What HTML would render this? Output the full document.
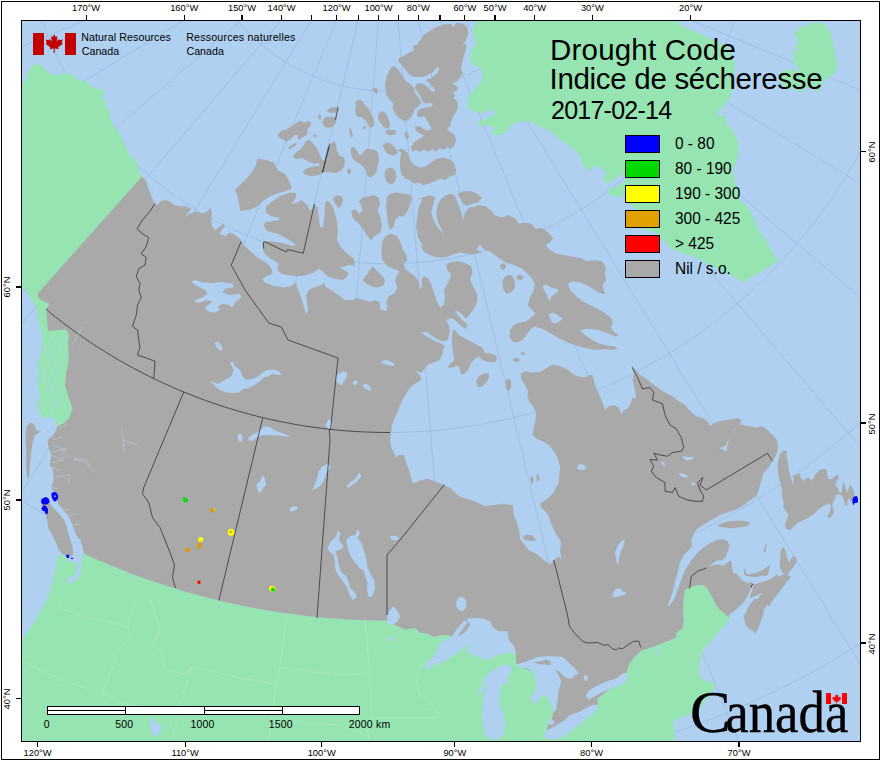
<!DOCTYPE html>
<html><head><meta charset="utf-8"><title>Drought Code</title>
<style>html,body{margin:0;padding:0;background:#fff}body{width:880px;height:760px;position:relative;overflow:hidden;font-family:"Liberation Sans",sans-serif}</style>
</head><body>
<svg width="880" height="760" viewBox="0 0 880 760" style="position:absolute;left:0;top:0">
<defs><clipPath id="c"><rect x="22" y="21" width="838" height="720"/></clipPath></defs>
<rect x="22" y="21" width="838" height="720" fill="#afd0f1"/>
<g clip-path="url(#c)">
<polyline fill="none" stroke="#86a4cf" stroke-opacity="0.55" stroke-width="0.7" points="-493.89,-175.53 -495.68,-147.76 -496.59,-119.95 -496.63,-92.12 -495.8,-64.31 -494.09,-36.53 -491.5,-8.83 -488.05,18.79 -483.73,46.28 -478.55,73.62 -472.51,100.78 -465.62,127.74 -457.89,154.48 -449.32,180.95 -439.92,207.14 -429.71,233.03 -418.68,258.58 -406.86,283.77 -394.25,308.57 -380.87,332.97 -366.72,356.94 -351.84,380.45 -336.21,403.48 -319.88,426 -302.84,448 -285.12,469.46 -266.73,490.35 -247.7,510.65 -228.03,530.34 -207.76,549.4 -186.9,567.81 -165.47,585.57 -143.49,602.63 -120.99,619 -97.98,634.66 -74.49,649.58 -50.55,663.76 -26.17,677.17 -1.38,689.82 23.8,701.67 49.33,712.74 75.2,722.99 101.38,732.42 127.84,741.03 154.56,748.8 181.52,755.73 208.67,761.8 236.01,767.02 263.49,771.38 291.1,774.87 318.8,777.49 346.57,779.24 374.39,780.11 402.21,780.11 430.03,779.24 457.8,777.49 485.5,774.87 513.11,771.38 540.59,767.02 567.93,761.8 595.08,755.73 622.04,748.8 648.76,741.03 675.22,732.42 701.4,722.99 727.27,712.74 752.8,701.67 777.98,689.82 802.77,677.17 827.15,663.76 851.09,649.58 874.58,634.66 897.59,619 920.09,602.63 942.07,585.57 963.5,567.81 984.36,549.4 1004.63,530.34 1024.3,510.65 1043.33,490.35 1061.72,469.46 1079.44,448 1096.48,426 1112.81,403.48 1128.44,380.45 1143.32,356.94 1157.47,332.97 1170.85,308.57 1183.46,283.77 1195.28,258.58 1206.31,233.03 1216.52,207.14 1225.92,180.95 1234.49,154.48 1242.22,127.74 1249.11,100.78 1255.15,73.62 1260.33,46.28 1264.65,18.79 1268.1,-8.83 1270.69,-36.53 1272.4,-64.31 1273.23,-92.12 1273.19,-119.95 1272.28,-147.76 1270.49,-175.53"/>
<polyline fill="none" stroke="#86a4cf" stroke-opacity="0.55" stroke-width="0.7" points="-317.42,-161.38 -318.85,-139.17 -319.58,-116.92 -319.61,-94.66 -318.94,-72.41 -317.57,-50.19 -315.51,-28.02 -312.74,-5.94 -309.29,16.06 -305.15,37.93 -300.32,59.66 -294.81,81.23 -288.62,102.61 -281.76,123.79 -274.25,144.74 -266.07,165.45 -257.25,185.89 -247.8,206.04 -237.71,225.88 -227,245.4 -215.69,264.57 -203.78,283.38 -191.28,301.8 -178.21,319.82 -164.58,337.42 -150.41,354.58 -135.7,371.29 -120.47,387.53 -104.74,403.28 -88.52,418.53 -71.84,433.26 -54.69,447.46 -37.11,461.12 -19.11,474.21 -0.7,486.74 18.09,498.67 37.24,510.01 56.74,520.75 76.57,530.86 96.71,540.35 117.14,549.2 137.83,557.4 158.78,564.94 179.95,571.83 201.32,578.04 222.88,583.59 244.6,588.45 266.47,592.62 288.46,596.11 310.54,598.9 332.7,601 354.92,602.39 377.17,603.09 399.43,603.09 421.68,602.39 443.9,601 466.06,598.9 488.14,596.11 510.13,592.62 532,588.45 553.72,583.59 575.28,578.04 596.65,571.83 617.82,564.94 638.77,557.4 659.46,549.2 679.89,540.35 700.03,530.86 719.86,520.75 739.36,510.01 758.51,498.67 777.3,486.74 795.71,474.21 813.71,461.12 831.29,447.46 848.44,433.26 865.12,418.53 881.34,403.28 897.07,387.53 912.3,371.29 927.01,354.58 941.18,337.42 954.81,319.82 967.88,301.8 980.38,283.38 992.29,264.57 1003.6,245.4 1014.31,225.88 1024.4,206.04 1033.85,185.89 1042.67,165.45 1050.85,144.74 1058.36,123.79 1065.22,102.61 1071.41,81.23 1076.92,59.66 1081.75,37.93 1085.89,16.06 1089.34,-5.94 1092.11,-28.02 1094.17,-50.19 1095.54,-72.41 1096.21,-94.66 1096.18,-116.92 1095.45,-139.17 1094.02,-161.38"/>
<polyline fill="none" stroke="#86a4cf" stroke-opacity="0.55" stroke-width="0.7" points="-147.26,-147.74 -148.35,-130.88 -148.9,-114 -148.93,-97.1 -148.42,-80.22 -147.38,-63.36 -145.82,-46.54 -143.72,-29.77 -141.1,-13.08 -137.95,3.52 -134.29,20.01 -130.1,36.37 -125.41,52.6 -120.21,68.67 -114.5,84.58 -108.3,100.29 -101.61,115.8 -94.43,131.09 -86.77,146.15 -78.65,160.97 -70.06,175.51 -61.02,189.79 -51.54,203.77 -41.62,217.44 -31.28,230.8 -20.52,243.82 -9.36,256.5 2.2,268.83 14.13,280.78 26.44,292.35 39.11,303.53 52.12,314.31 65.46,324.67 79.12,334.61 93.09,344.11 107.35,353.17 121.88,361.78 136.68,369.92 151.73,377.6 167.02,384.8 182.52,391.51 198.22,397.74 214.12,403.47 230.18,408.69 246.4,413.41 262.76,417.61 279.25,421.3 295.84,424.47 312.53,427.11 329.29,429.23 346.11,430.82 362.97,431.89 379.85,432.42 396.75,432.42 413.63,431.89 430.49,430.82 447.31,429.23 464.07,427.11 480.76,424.47 497.35,421.3 513.84,417.61 530.2,413.41 546.42,408.69 562.48,403.47 578.38,397.74 594.08,391.51 609.58,384.8 624.87,377.6 639.92,369.92 654.72,361.78 669.25,353.17 683.51,344.11 697.48,334.61 711.14,324.67 724.48,314.31 737.49,303.53 750.16,292.35 762.47,280.78 774.4,268.83 785.96,256.5 797.12,243.82 807.88,230.8 818.22,217.44 828.14,203.77 837.62,189.79 846.66,175.51 855.25,160.97 863.37,146.15 871.03,131.09 878.21,115.8 884.9,100.29 891.1,84.58 896.81,68.67 902.01,52.6 906.7,36.37 910.89,20.01 914.55,3.52 917.7,-13.08 920.32,-29.77 922.42,-46.54 923.98,-63.36 925.02,-80.22 925.53,-97.1 925.5,-114 924.95,-130.88 923.86,-147.74"/>
<polyline fill="none" stroke="#86a4cf" stroke-opacity="0.55" stroke-width="0.7" points="20.93,-134.25 20.18,-122.69 19.8,-111.11 19.79,-99.52 20.13,-87.94 20.85,-76.37 21.92,-64.83 23.36,-53.33 25.16,-41.89 27.32,-30.5 29.83,-19.19 32.7,-7.96 35.92,3.17 39.49,14.2 43.4,25.1 47.66,35.88 52.25,46.52 57.17,57.01 62.42,67.34 67.99,77.5 73.88,87.48 80.08,97.27 86.59,106.86 93.39,116.24 100.49,125.4 107.87,134.34 115.52,143.04 123.45,151.49 131.64,159.69 140.08,167.63 148.77,175.3 157.69,182.69 166.85,189.8 176.22,196.61 185.8,203.13 195.58,209.35 205.55,215.25 215.7,220.84 226.03,226.1 236.51,231.04 247.14,235.65 257.92,239.92 268.82,243.85 279.84,247.43 290.96,250.67 302.19,253.55 313.5,256.08 324.88,258.25 336.32,260.07 347.82,261.52 359.36,262.61 370.92,263.34 382.51,263.71 394.09,263.71 405.68,263.34 417.24,262.61 428.78,261.52 440.28,260.07 451.72,258.25 463.1,256.08 474.41,253.55 485.64,250.67 496.76,247.43 507.78,243.85 518.68,239.92 529.46,235.65 540.09,231.04 550.57,226.1 560.9,220.84 571.05,215.25 581.02,209.35 590.8,203.13 600.38,196.61 609.75,189.8 618.91,182.69 627.83,175.3 636.52,167.63 644.96,159.69 653.15,151.49 661.08,143.04 668.73,134.34 676.11,125.4 683.21,116.24 690.01,106.86 696.52,97.27 702.72,87.48 708.61,77.5 714.18,67.34 719.43,57.01 724.35,46.52 728.94,35.88 733.2,25.1 737.11,14.2 740.68,3.17 743.9,-7.96 746.77,-19.19 749.28,-30.5 751.44,-41.89 753.24,-53.33 754.68,-64.83 755.75,-76.37 756.47,-87.94 756.81,-99.52 756.8,-111.11 756.42,-122.69 755.67,-134.25"/>
<polyline fill="none" stroke="#86a4cf" stroke-opacity="0.55" stroke-width="0.7" points="192.9,-120.47 192.5,-114.32 192.3,-108.16 192.29,-101.99 192.47,-95.83 192.85,-89.68 193.43,-83.54 194.19,-77.43 195.15,-71.34 196.29,-65.28 197.63,-59.26 199.16,-53.29 200.87,-47.37 202.77,-41.51 204.85,-35.71 207.11,-29.97 209.55,-24.31 212.17,-18.73 214.97,-13.24 217.93,-7.83 221.06,-2.53 224.36,2.68 227.82,7.78 231.44,12.77 235.21,17.64 239.14,22.4 243.21,27.02 247.43,31.52 251.78,35.88 256.27,40.1 260.89,44.18 265.64,48.11 270.51,51.9 275.49,55.52 280.59,58.99 285.79,62.29 291.1,65.43 296.5,68.41 301.99,71.21 307.56,73.83 313.22,76.28 318.95,78.55 324.75,80.64 330.61,82.55 336.53,84.27 342.5,85.8 348.51,87.15 354.57,88.31 360.65,89.27 366.77,90.04 372.91,90.63 379.06,91.01 385.22,91.21 391.38,91.21 397.54,91.01 403.69,90.63 409.83,90.04 415.95,89.27 422.03,88.31 428.09,87.15 434.1,85.8 440.07,84.27 445.99,82.55 451.85,80.64 457.65,78.55 463.38,76.28 469.04,73.83 474.61,71.21 480.1,68.41 485.5,65.43 490.81,62.29 496.01,58.99 501.11,55.52 506.09,51.9 510.96,48.11 515.71,44.18 520.33,40.1 524.82,35.88 529.17,31.52 533.39,27.02 537.46,22.4 541.39,17.64 545.16,12.77 548.78,7.78 552.24,2.68 555.54,-2.53 558.67,-7.83 561.63,-13.24 564.43,-18.73 567.05,-24.31 569.49,-29.97 571.75,-35.71 573.83,-41.51 575.73,-47.37 577.44,-53.29 578.97,-59.26 580.31,-65.28 581.45,-71.34 582.41,-77.43 583.17,-83.54 583.75,-89.68 584.13,-95.83 584.31,-101.99 584.3,-108.16 584.1,-114.32 583.7,-120.47"/>
<polyline fill="none" stroke="#86a4cf" stroke-opacity="0.55" stroke-width="0.7" points="343.66,-94.14 -853.21,191.7"/>
<polyline fill="none" stroke="#86a4cf" stroke-opacity="0.55" stroke-width="0.7" points="345.88,-87.28 -791.47,382.43"/>
<polyline fill="none" stroke="#86a4cf" stroke-opacity="0.55" stroke-width="0.7" points="349.15,-80.86 -700.63,561.14"/>
<polyline fill="none" stroke="#86a4cf" stroke-opacity="0.55" stroke-width="0.7" points="353.38,-75.02 -582.94,723.42"/>
<polyline fill="none" stroke="#86a4cf" stroke-opacity="0.55" stroke-width="0.7" points="358.47,-69.92 -441.28,865.28"/>
<polyline fill="none" stroke="#86a4cf" stroke-opacity="0.55" stroke-width="0.7" points="364.3,-65.68 -279.16,983.2"/>
<polyline fill="none" stroke="#86a4cf" stroke-opacity="0.55" stroke-width="0.7" points="370.72,-62.41 -100.58,1074.29"/>
<polyline fill="none" stroke="#86a4cf" stroke-opacity="0.55" stroke-width="0.7" points="377.58,-60.18 90.07,1136.29"/>
<polyline fill="none" stroke="#86a4cf" stroke-opacity="0.55" stroke-width="0.7" points="384.7,-59.05 288.06,1167.68"/>
<polyline fill="none" stroke="#86a4cf" stroke-opacity="0.55" stroke-width="0.7" points="391.9,-59.05 488.54,1167.68"/>
<polyline fill="none" stroke="#86a4cf" stroke-opacity="0.55" stroke-width="0.7" points="399.02,-60.18 686.53,1136.29"/>
<polyline fill="none" stroke="#86a4cf" stroke-opacity="0.55" stroke-width="0.7" points="405.88,-62.41 877.18,1074.29"/>
<polyline fill="none" stroke="#86a4cf" stroke-opacity="0.55" stroke-width="0.7" points="412.3,-65.68 1055.76,983.2"/>
<polyline fill="none" stroke="#86a4cf" stroke-opacity="0.55" stroke-width="0.7" points="418.13,-69.92 1217.88,865.28"/>
<polyline fill="none" stroke="#86a4cf" stroke-opacity="0.55" stroke-width="0.7" points="423.22,-75.02 1359.54,723.42"/>
<polyline fill="none" stroke="#86a4cf" stroke-opacity="0.55" stroke-width="0.7" points="427.45,-80.86 1477.23,561.14"/>
<polyline fill="none" stroke="#86a4cf" stroke-opacity="0.55" stroke-width="0.7" points="430.72,-87.28 1568.07,382.43"/>
<polyline fill="none" stroke="#86a4cf" stroke-opacity="0.55" stroke-width="0.7" points="432.94,-94.14 1629.81,191.7"/>
<polyline fill="none" stroke="#86a4cf" stroke-opacity="0.55" stroke-width="0.7" points="434.06,-101.26 1660.92,-6.34"/>
<polygon fill="#96e4b1" points="15,86.25 25,82.5 28,72.5 32,65.5 40,63.75 42.5,67 50,73.75 55.5,75 65.5,73.25 72.5,74.5 79.5,81.25 86.25,81.25 93,87.5 103.75,90.5 103.75,96.25 100,98 105,100 106.25,106.25 110,111.25 109.5,117.5 113.75,126.25 117.5,130 122.5,140 130,155 137.5,162.5 139,172.5 142,176.5 150,300 90,430 57.5,426.25 55,420 50,416.25 45,418.75 40,415 37.5,405 40,395 37.5,385 38.75,375 37.5,365 41.25,355 42,345 42.5,335 40,325 37.5,315 36.25,306.25 31.25,298.75 27.5,292.5 25,288.75 15,285"/>
<polygon fill="#96e4b1" points="57.5,554.5 56.25,565 53.75,577.5 51.25,587.5 48.75,595 45,602.5 40,612.5 33.75,622.5 22,640 10,650 10,760 676,760 675.5,740.5 675,735 673.75,726.25 672.5,722.5 677.5,718.75 685,716.25 692.5,712.5 697.5,710 702.5,705 710,695 716.25,683.75 710,682.5 702.5,680 698.75,673.75 699.5,667.5 700,660 702.5,651.25 706.25,646.25 711.25,641.25 716.25,635 721.25,628.75 726.25,623.75 729.5,618 725,613.75 720,610 716.25,605 712.5,597.5 707.5,588.75 703.75,585 697.5,585 690,587.5 685,589.5 683.75,597.5 683,610 683.75,620 682.5,628.75 676.25,632.5 676.25,637.5 667.5,641.25 655,646.25 641.25,650.5 633.75,657.5 628.75,665 626.25,673 615,685 602,695 597,699 598,704.5 580,715 560,728 548,738 544.5,736.25 547,730 548,725 551.25,720 553.75,712 552,700 548,685 535,672 520,667 516,663 516,655 505,645 480,640 460,640 452.5,636.25 446.25,635 440,635.5 433.75,637 427.5,633.75 420,632.5 415,628 405,629.5 395,625 390,623 387.16,620.53 375.72,620.42 364.28,620.13 352.84,619.66 341.42,619.01 330,618.18 318.6,617.17 307.22,615.98 295.86,614.62 284.52,613.07 273.2,611.34 261.92,609.44 250.67,607.35 239.45,605.09 228.27,602.66 217.12,600.04 206.03,597.25 194.97,594.29 183.97,591.15 173.01,587.84 162.11,584.36 151.26,580.71 140.48,576.88 129.75,572.89 119.09,568.72 108.5,564.39 97.98,559.89 87.53,555.23 77.15,550.4 76,556 72,557"/>
<polygon fill="#96e4b1" points="478.75,17.5 475,25 472.5,31.25 474.5,37.5 476.25,43.75 471.25,50 470,57.5 471.25,63.75 480,67.5 482.5,73.75 482,80 477.5,85.5 472.5,91.25 468.75,97.5 467,103.75 468.75,108.75 475,112 481.25,113 487.5,111.25 492.5,108.75 495,112.5 492.5,116.25 485.5,118.75 480,120.5 477.5,122.5 480,126.25 486.25,125 492.5,126.25 493.75,130 490,133 495,135 502.5,134.5 507.5,130 511.25,126.25 515,123 522.5,121.25 530,122 537.5,125 542.5,128 548,130 553.75,133.75 560,140 565,142.5 571.25,147.5 577.5,152.5 581.25,160 585,167.5 590,171.25 595,165 600,167.5 606.25,172.5 602.5,178.75 607.5,183.75 616.25,177.5 623.75,173.75 625.5,180 622.5,183.75 613.75,187.5 607.5,190 610,195 617.5,197.5 625.5,195.5 630,205 635,207.5 642.5,228.75 647.5,230 655,232.5 660,235 665,242.5 670,247.5 680,252.5 690,255 700,260 710,265 720,270 730,275 740,280 743.75,283 750,277.5 760,272.5 770,266.25 778,261.25 772.5,252.5 767.5,242.5 760,232.5 755,222.5 751.25,212.5 746.25,205 740,200 738.75,190 735,182.5 732.5,172.5 736.25,162.5 738.75,152.5 738,142.5 735,135 732.5,130 727,125 725,116.25 715,113.75 720,110 726.25,102.5 730,97.5 732.5,87.5 733.75,75 735,62.5 731.25,52.5 725,45 715,41.25 707.5,37.5 700,33.75 690,30 680,25 676.25,17.5"/>
<polygon fill="#96e4b1" points="799.47,24.58 803.42,27.21 808.68,24.58 813.95,21.95 819.21,22.61 824.47,24.58 828.42,29.84 831.71,35.11 832.37,41.68 834.34,48.26 835,56.16 836.97,62.74 836.32,69.32 833.68,73.26 829.74,77.21 825.79,79.84 821.84,82.47 821.18,87.74 817.89,92.34 813.95,89.71 810,86.42 804.74,89.05 800.79,93 798.16,91.68 794.21,87.74 787.63,90.37 782.37,85.11 779.08,78.53 778.42,74.58 783.68,70.63 790.26,69.32 795.53,70.63 799.47,71.95 797.5,68 795.53,63.39 790.92,61.42 794.47,59.45 792.89,54.84 793.55,50.89 799.47,49.58 794.87,47.61 798.16,43 796.18,37.74 793.55,34.45 794.87,31.16 799.47,30.5"/>
<polygon fill="#a9a9a9" points="277.5,135 281.25,130.5 285.5,130 291.25,126.25 295,123.75 300,120.75 305,122.5 308,120.75 311.25,122.5 310.5,126.25 307.5,128.75 308,132.5 305,136.25 302,137 301.25,138.75 297.5,139.5 298,135 295,135 291.25,138.75 287.5,141.25 285.5,142.5 283.75,139.5 280,138.75"/>
<polygon fill="#a9a9a9" points="288,148 292.5,144.5 296.25,142.5 297,144.5 292.5,147.5 289.5,149.5"/>
<polygon fill="#a9a9a9" points="293,156.25 296.25,152 299.5,150 303,146.25 306.25,140.75 310,140 312.5,143 315,146.25 318,150 320,155.5 322.5,160 326.25,161.25 328,152.5 330,146.25 332.5,142 335,141.25 336.25,146.25 337,151.25 340,156.25 343.75,157 345,161.25 344.25,166.25 341.25,170.5 336.25,173 331.25,172.5 326.25,172 322.5,173 318.75,175 312.5,176.25 307.5,175.5 303.75,173.75 303,171.25 306.25,168.75 310.5,167 316.25,166.25 320,165.5 318.75,163 314.5,163.75 310.5,162.5 306.25,160.5 302,158 297.5,159 294.5,158.5"/>
<polygon fill="#a9a9a9" points="326.25,110.5 330,108 335,107 338,106.25 338.5,109.5 336.25,112.5 332.5,113 328.75,112.5"/>
<polygon fill="#a9a9a9" points="323,119.5 326.25,117 331.25,116.5 335.5,117 336.5,120 335,124.5 332,127 327.5,128 323.75,126.25 322.5,122.5"/>
<polygon fill="#a9a9a9" points="318,115.5 320,114.5 321.5,117.5 320,120 318.5,118.75"/>
<polygon fill="#a9a9a9" points="312.5,135 315,134 317,136.25 314.5,137.5"/>
<polygon fill="#a9a9a9" points="355,102 358,100 362,100.5 364.5,105 368,107.5 370,111.25 373,117.5 374.5,122.5 373,127 370,128 368,124.5 366.25,121.25 363.75,119.5 361.25,117 358.75,117.5 356.25,115 355,110 356.25,106.25"/>
<polygon fill="#a9a9a9" points="362.5,127 365,126 366.75,128 364.5,129.5"/>
<polygon fill="#a9a9a9" points="378,115 381.25,111.25 385,112.5 388,117.5 390,123.75 389.5,128 386.25,128.75 383,126.25 380,122.5 378,118.75"/>
<polygon fill="#a9a9a9" points="373,88.75 376.25,87.5 378,90.5 377.5,94 375,93"/>
<polygon fill="#a9a9a9" points="349,128 351,128.75 353,136.25 351.5,138 349.5,133.75"/>
<polygon fill="#a9a9a9" points="385,131.25 388.75,129.5 395,130 396.5,133 393.75,135 388,135"/>
<polygon fill="#a9a9a9" points="404.25,132.5 407,132 409,136.25 407.5,139.5 405,137.5"/>
<polygon fill="#a9a9a9" points="350.5,148 353.75,147 356.25,150 358,153 360,155.5 363,153 365,150 367.5,148.75 371.25,149.5 375.5,150 378,153 379,160 377.5,166.25 376.25,172.5 373,176.25 369.5,177.5 367,175 366.25,171.25 363.75,167.5 361.25,165 358,162.5 355,161.25 352,157.5 351,153"/>
<polygon fill="#a9a9a9" points="347,170 349.5,168.25 351.25,171.25 350,174.25 347.5,173.25"/>
<polygon fill="#a9a9a9" points="383,145 386.25,142.5 391.25,143.75 395,147.5 398,152.5 395,155.5 391.25,155 387.5,153.75 384.5,150"/>
<polygon fill="#a9a9a9" points="384.5,172.5 387,168.75 391.25,167.5 395,170 396.5,176.25 395,182 391.25,184.5 387,182.5 385,178"/>
<polygon fill="#a9a9a9" points="419.47,41.18 424.07,34.73 429.59,31.05 436.04,27.37 443.41,24.6 450.77,23.68 453.54,27.37 456.3,22.76 463.66,23.68 467.35,27.37 468.27,33.81 466.43,39.34 463.66,43.94 459.98,47.62 463.66,44.86 466.43,43.02 465.87,49.47 463.66,56.83 461.82,64.2 460.9,69.72 462.74,73.41 459.98,77.09 458.14,80.77 452.62,83.54 455.38,85.38 458.14,87.22 456.3,90.9 452.62,92.74 455.38,95.51 453.54,98.27 457.22,101.03 458.14,106.56 456.3,112.08 453.54,115.76 451.69,120.37 449.85,125.89 447.09,129.58 450.77,132.34 454.46,135.1 456.3,139.71 454.46,145.23 450.77,148.91 447.09,147.07 443.41,149.83 439.72,147.99 436.04,151.68 432.36,148.91 428.67,151.68 424.07,149.83 419.47,151.68 415.78,149.83 412.1,151.68 411.18,147.07 413.94,142.47 417.62,139.71 421.31,137.86 424.07,135.1 419.47,133.26 415.78,130.5 414.86,126.81 419.47,125.89 423.15,128.66 426.83,130.5 431.44,129.58 429.59,124.97 426.83,120.37 424.07,115.76 420.39,117.61 416.7,115.76 417.62,111.16 421.31,108.4 425.91,107.48 431.44,106.56 433.28,103.79 429.59,102.87 424.99,103.79 422.23,101.03 420.39,96.43 417.62,91.82 414.86,87.22 417.62,83.54 422.23,83.54 426.83,86.3 431.44,90.9 435.12,91.82 434.2,88.14 429.59,83.54 425.91,79.85 431.44,78.01 436.96,73.41 439.72,68.8 436.96,66.96 433.28,71.57 427.75,75.25 422.23,77.09 416.7,77.09 412.1,76.17 408.42,73.41 405.65,69.72 402.89,66.04 398.29,61.44 399.21,57.75 403.81,55.91 408.42,53.15 413.94,50.39 413.02,45.78 417.62,44.86"/>
<polygon fill="#a9a9a9" points="385,85 387.5,73.75 391.25,67.5 395,66.25 398.75,70 402.5,76.25 406.25,81.25 410,83.75 413.75,87.5 415,93.75 418.75,97.5 421.25,102.5 418.75,106.25 415,108.75 413,113.75 410,118.75 405,121.25 400,118.75 395,113.75 392.5,107.5 393.75,103.75 390,100 386.25,95"/>
<polygon fill="#a9a9a9" points="400,160 401.25,152.5 397.5,150 402.5,148.75 407.5,152.5 410,160 413.75,165 420,167.5 426.25,166.25 431.25,162.5 436.25,158.75 442.5,157.5 448.75,158.75 453.75,162.5 456.25,170 455,175 450,176.25 445,180 440,178.75 435,181.25 428.75,183.75 422.5,185 418.75,182.5 413.75,183.75 410,180 405,178.75 401.25,173.75 400,167.5"/>
<polygon fill="#a9a9a9" points="235,190 241.25,183.75 247.5,177.5 255,167.5 257.5,158.75 266.25,160 273.75,162.5 277.5,170 285,173.75 290,182.5 292,188.75 285,191.25 276.25,193.75 270,196.25 262.5,201.25 257.5,206.25 250,209.5 240.5,211.25 238.75,202.5 237.5,196.25"/>
<polygon fill="#a9a9a9" points="263.75,241.25 270,241.25 280,242.5 290,245 295,246.25 294.5,243.75 287.5,238.75 277.5,233.75 267.5,231.25 263.75,226.25 265,222.5 271.25,221.25 280,220 278,217.5 271.25,216.25 265.5,212.5 266.25,206.25 272.5,201.25 280,196.25 290,192.5 296.25,193 295.5,198.75 291.25,203.75 297.5,202.5 301.25,200 307.5,205 310,211.25 314.5,205 317.5,207.5 320,226.25 323,228 324.5,215 325,202.5 328,200.5 332.5,206.25 336.25,217.5 338,230 337,240 341.25,247.5 347.5,253.75 353.75,258.75 355,266.25 350,265 345,266.25 340,267.5 343.75,270 348.75,272.5 346.25,277.5 342.5,280 335,278.75 327.5,276.25 322.5,271.25 318.75,268.75 313.75,272.5 306.25,275 298.75,276.25 290,275.5 281.25,273.75 277.5,270 278.75,263.75 275,261.25 268.75,257.5 263.75,252.5 262.5,245"/>
<polygon fill="#a9a9a9" points="351.25,211.25 355,208.75 358.75,213.75 362.5,211.25 361.25,205 358.75,201.25 362.5,197.5 368.75,196.25 373.75,195 378.75,197.5 380,203.75 377.5,210 380,216.25 382,223.75 380.5,232.5 375,235.5 371.25,240 367.5,236.25 363.75,230 360,225 356.25,221.25 352.5,217.5"/>
<polygon fill="#a9a9a9" points="333,198 336.25,195.5 340.5,195.5 343,198.75 342,203.75 338.75,208.75 336.25,205 333.75,201.25"/>
<polygon fill="#a9a9a9" points="387,197.5 390,193.75 396.25,192.5 403.75,193.75 410,194.5 412,198.75 410,205 407.5,211.25 403.75,216.25 398.75,216.25 395,220 393.75,226.25 390,230 388,223.75 387,215 386.25,206.25"/>
<polygon fill="#a9a9a9" points="362.5,280 367.5,273.75 372.5,266.25 376.25,270 381.25,275 385,280 383.75,285 378.75,287.5 372.5,287 366.25,283.75"/>
<polygon fill="#a9a9a9" points="417.5,200 423.75,197 430,195 435.5,197 433,205 431.25,212.5 433.75,221.25 438.75,228.75 444.5,234.5 445.5,237 442,230 438,222.5 436.25,213.75 437.5,205 441.25,198.75 446.25,195 451.25,193.75 455,196.25 457.5,202.5 460.5,210 463,220 465.5,212.5 468.75,207.5 473.75,207 478.75,205 485.5,206.25 491.25,210.5 495,215.5 502.5,217.5 508.75,215 515,218 518.75,223.75 525,222.5 531.25,223.75 535.5,228.75 542.5,228 548,232.5 553,238 550,242.5 545.5,245 550,250 556.25,253.75 563.75,255 572.5,256.75 580,258 587.5,261.25 595,260 602.5,261.5 605.5,267.5 605,275 606.25,280 602.5,285 605,294.25 598.75,292.5 592.5,288.75 586.25,285 580,282.5 572.5,281.25 568,283.75 570,290 576.25,296.25 582.5,301.25 590,305 597.5,308.75 605,313 611.25,318 613,323 610.5,327.5 614.5,332.5 618.75,335.5 615,336.5 607.5,333 600,330.5 592.5,329 585,329 580,330.5 585,335 592.5,340 600,343.75 607.5,345.5 615,346.5 618,349 611.25,350 605,349 597.5,350 590,349 582.5,347.5 575,345 567.5,342.5 562.5,340 557.5,337.5 551.25,333.75 545,330 540,328 533.75,326.5 530,330 526.25,335 522.5,340 517.5,342.5 512.5,341.5 509.5,336.5 510,330 513.75,325 520,322.5 526.25,321.25 531.25,317.5 535.5,313.75 531.25,308.75 527.5,305 530,297.5 533.75,290 535,283.75 531.25,277.5 526.25,272.5 522.5,268.75 516.25,266.25 512.5,264.25 506.25,263 500,259 495,255 490,251.75 483.75,249 480,245 476.25,248.75 481.25,252.5 476.25,254 468.75,254 460,252.5 452.5,255 443.75,257.5 436.25,257.5 430,255 423.75,251.5 421.25,246.5 422.5,245 418,237.5 416.25,227.5 417,217.5 418.75,207.5 422.5,198.75"/>
<polygon fill="#a9a9a9" points="457.5,193.75 463.75,191.25 471.25,191.25 477.5,193.75 482,198 477.5,202.5 471.25,203.75 466.25,206.25 462.5,202.5 459.5,197.5"/>
<polygon fill="#a9a9a9" points="502.5,280 506.25,275.5 511.25,275 514.5,280 515,287.5 511.25,292.5 506.25,293.75 503,288.75"/>
<polygon fill="#a9a9a9" points="516.25,276.25 520,274.5 523.75,277 521.25,280 517.5,279.5"/>
<polygon fill="#a9a9a9" points="500,265 503.75,263 506.25,266.25 503.75,270 500.5,268.75"/>
<polygon fill="#a9a9a9" points="452.5,331.25 455,329.5 458.75,335 463.75,337.5 470,341.25 476.25,344.5 482.5,347.5 485,353 491.25,353.75 496.25,355.5 497,360 493.75,362.5 487.5,362 482.5,360 478.75,356.25 475,358.75 471.25,362.5 468.75,368.75 465,373.75 461.25,374.5 459.5,368.75 458,365.5 452.5,367.5 448,368 450,363.75 454.5,360 453,352.5 452,345 452,337.5"/>
<polygon fill="#a9a9a9" points="476.25,381.25 478.75,376.25 483.75,373.75 488.75,373 489,377.5 486.25,382.5 482.5,386.25 478,387.5"/>
<polygon fill="#a9a9a9" points="505.5,380 508.75,378.25 511.25,381.25 511,387.5 508.75,391.25 505.75,388"/>
<polygon fill="#a9a9a9" points="513,358.75 517,357.5 520,360 517,362.5 513.75,361.25"/>
<polygon fill="#a9a9a9" points="520,353 523,352 525.75,354 523,355.5"/>
<polygon fill="#a9a9a9" points="778.55,458.42 780.53,453.16 783.82,450.53 787.11,451.18 786.45,455.79 787.76,461.05 788.42,467.63 789.74,474.21 791.71,480.79 793.03,484.74 793.68,475.53 796.32,474.87 799.61,473.55 800.92,478.16 803.55,480.79 806.84,478.16 809.47,477.5 810.79,480.79 813.42,478.16 815.39,474.21 818.03,471.58 820.66,469.61 823.95,468.95 826.58,469.61 827.24,474.21 827.89,478.16 830.53,479.47 833.16,478.16 835.79,475.53 837.76,474.21 839.08,478.16 836.45,482.11 835.13,486.05 837.76,487.37 839.08,491.97 841.71,492.63 842.37,487.37 843.03,482.11 844.74,483.42 845.66,488.68 847.63,492.63 848.95,487.37 850.26,484.74 852.24,487.37 854.21,492.63 854.87,496.58 852.89,500.53 850.53,501.84 848.95,497.89 847.63,500.53 846.97,505.79 845,505.13 843.68,499.21 841.71,495.26 838.42,493.95 835.79,495.26 835.13,499.21 833.16,501.84 831.84,505.13 833.16,508.42 833.82,512.37 831.84,516.32 828.55,518.29 827.24,516.32 829.87,511.71 830.79,505.79 829.21,503.16 825.92,504.47 822.63,506.45 819.34,508.42 816.05,511.71 812.76,515 808.16,517.63 802.89,520.26 797.63,522.89 793.68,526.84 789.74,530.13 786.45,528.82 784.74,525.53 786.45,520.26 788.42,515 785.79,511.05 783.16,507.11 783.82,503.16 782.5,497.89 782.11,492.63 781.18,486.05 779.47,479.47 778.16,472.89 777.63,466.32 777.89,461.71"/>
<polygon fill="#a9a9a9" points="717.63,525.53 721.58,523.16 727.9,521.58 735.79,520.79 743.69,520.79 749.21,521.89 750,523.95 746.06,526.32 738.95,527.58 731.84,528.21 724.74,527.58 720,527.11"/>
<polygon fill="#a9a9a9" points="743.69,568.95 746.06,570.53 745.58,573.69 749.21,574.48 752.37,573.69 756.32,572.9 760.27,571.32 764.21,568.95 767.37,566.58 770.21,565.48 768.95,569.74 768.16,574.48 765.79,576.06 761.85,575.27 757.9,576.85 753.95,577.16 750,576.53 746.06,576.06 744,573.69"/>
<polygon fill="#a9a9a9" points="751.9,584.74 756.32,583.95 761.06,582.37 765.79,580.79 770.53,579.21 774.48,576.85 776.53,574.48 778.43,576.85 781.58,575.27 784.74,574.48 788.69,575.58 791.06,576.85 787.9,580.79 784.74,584.74 781.58,588.69 778.43,592.64 775.27,597.37 771.32,602.11 769.74,606.06 767.37,605.27 764.21,608.43 763.42,613.16 761.85,617.9 760.27,622.64 758.69,627.37 757.11,631.32 755.06,632.9 752.37,630.53 749.21,628.95 746.06,625.8 744.48,621.06 743.69,616.32 746.06,612.37 747.63,607.64 750.79,602.9 754.74,598.95 757.9,598.95 761.06,594.21 764.21,591.85 760.27,593.42 756.32,595.79 752.37,597.37 749.21,598.16 750.79,594.21 752.37,590.27 753.16,587.11"/>
<polygon fill="#a9a9a9" points="779.69,567.37 780,559.48 780.79,551.58 782.37,547.63 784.74,548.42 786.32,553.95 787.9,559.48 789.48,562.63 791.06,558.69 793.43,556.32 796.11,557.11 796.58,561.05 794.22,565.79 791.06,569.74 788.69,572.9 787.11,575.58 783.95,574.48 781.58,570.53"/>
<polygon fill="#a9a9a9" points="763.9,550.79 765.48,543.69 766.58,543.69 765.48,551.58 764.21,552.84"/>
<polygon fill="#a9a9a9" points="142,176.5 146.25,181.25 148.75,190 152.5,198.75 155,203.75 158,205 160,201.25 166.25,200 171.25,202.5 173.75,205 180,206.25 186.25,206.25 191.25,208.75 186.25,215 183.75,217.5 190,213.75 196.25,211.25 202.5,213.75 207.5,211.25 210.5,207.5 212,212.5 211.25,220 212,226.25 215,230 218.75,227.5 223.75,223.75 225,226.25 221.25,230 220,233.75 225,236.25 230,232.5 235,235 240,238.75 243.75,245 250,251.25 257.5,257.5 266.25,262.5 271.25,267.5 272.5,273.75 266.25,276.25 262,279.25 265,282.5 272.5,285.5 282.5,287.5 290,286.25 296.25,282.5 297.5,288.75 301.25,297.5 303.75,306.25 306.25,315 308,310 307,302.5 306.25,295 308.75,290 315,287 321.25,285 324.5,282.5 325,286.25 328.75,288.75 335,292.5 340,296.25 345,300 352.5,300 357.5,298 362.5,299.5 370,302 375,300 380,302.5 382,308.75 385,310.5 387.5,307 386.25,301.25 388.75,296.25 393.75,293.75 397.5,287.5 395,281.25 396.25,276.25 399.5,271.25 393.75,268.75 387.5,266.25 382.5,260 381.25,250 382.5,241.25 386.25,235.5 391.25,233.75 396.25,235.5 400,241.25 402.5,248.75 406.25,255 407.5,260 403.75,263.75 405,268.75 410,272.5 415,276.25 418.75,281.25 420,290 422,286.25 421.5,280 423.75,276.25 428,278 431.25,283.75 433.75,292.5 437,301.25 440,307.5 443.75,305 445,297.5 443.75,290 447.5,283.75 450,278.75 451.25,274.5 447.5,270 446.25,265 450,262 450,262.5 457.5,261.25 465,263 471.25,266.25 472.5,272.5 470,280 473.75,287.5 477.5,295 477.5,300 475,307.5 470,313.75 466.25,318.75 460,312.5 455,310 457.5,315 463.75,321.25 467.5,325 465,328.75 460,325 455,320 451.25,318 446.25,320 448.75,325 450,331.25 447.5,340 442.5,341.25 436.25,338.75 431.25,335 426.25,332 420,332.5 428.75,337.5 435,341.25 442,343.75 444.5,346.25 442.5,353.75 440,360 433.75,362.5 427.5,364.5 425,368.75 421.25,372.5 415,370.5 420,375 421.25,380 415,383.75 410,387.5 406.25,393.75 402.5,400 400,405 397.5,412.5 393.75,420 392,425 391.25,432.5 390,440 391.25,447.5 393.75,452.5 396.25,457.5 398.75,455 403.75,455 406.25,462.5 408.75,470 411.25,477.5 412.5,483.75 420,480.5 427.5,478.75 435,481.25 442.5,484.5 451.25,488.75 458.75,496.25 467.5,498.75 477.5,502.5 485,506.25 493.75,505 502.5,503.75 512.5,505 513.75,515 517.5,523.75 519.5,532.5 520,538.75 523.75,543.75 528.75,550 536.25,553.75 543.75,560 550,564.5 553.75,560 558.75,556.25 561.25,560 560,550 561.25,542.5 557.5,536.25 553.75,530 550,520 547.5,513.75 541.25,507.5 540,503.75 547.5,498.75 553.75,492.5 558.75,482.5 559.5,475 560,466.25 557.5,457.5 553.75,451.25 548.75,445 542.5,441.25 536.25,438.75 532.5,435 533.75,427.5 535.5,420 536.25,413.75 533.75,407.5 530,402.5 527.5,397.5 528,391.25 525,385 521.25,378.75 520.5,373.75 525,371.25 532.5,372.5 540,372 547.5,367.5 552.5,364.5 560,366.25 567.5,369.5 572.5,373.75 577.5,376.25 585,377.5 590,375 592.5,375 595,385 598.75,393.75 602.5,402.5 605,410 608.75,406.25 613.75,405 618.75,407.5 621.25,415 623.75,410 627.5,408.75 631.25,402.5 632.5,397.5 636.25,398.75 635,390 632.5,380 633.75,373.75 632,367 636.25,370 640,375 646.25,378.75 652.5,383.75 658.75,388.75 665,392.5 672.5,396.25 678.75,401.25 685,405 690,411.25 696.25,416.25 702.5,418 707.5,421.25 710,426.25 715,422.5 722.5,420.5 730,419.5 737.5,418 741.25,420 740,424.5 743.75,425 750,426.25 755,427.5 762.5,426.25 767.5,430 772.5,435 777,440 778,447.5 776.25,455 772.5,461.25 768.75,467.5 763.75,472.5 761.25,481.25 758.75,490 756.25,496.25 748.75,501.25 742.5,506.25 735,510 727.5,512.5 720,515 712.5,519.5 705,523.75 697.5,528.75 693.75,533.75 691.25,540 692,546.25 687.5,551.25 683.75,555 680,562.5 677.5,572.5 675,582.5 672.5,592.5 670,600 667.5,606.25 668.75,606.25 673.75,600 677.5,590 681.25,580 685,570 690,562.5 693.16,557.9 697.9,552.37 704.21,546.84 710.53,542.9 716.84,539.74 723.16,538.95 727.9,541.32 729.48,546.05 727.9,551.58 725.53,557.11 722.37,560.27 717.63,560.27 713.69,562.63 709.74,565.79 707.05,567.37 713.69,565 718.42,564.21 723.16,565.79 727.11,562.63 730.74,560.27 731.84,564.21 732.32,569.74 733.42,573.69 736.58,572.9 738.95,576.85 742.9,580.79 746.85,583.16 750.79,582.37 753.16,581.58 751.9,584.74 750.79,587.9 749.21,592.64 746.85,597.37 743.69,602.11 739.74,606.06 735.79,610 731.05,613.16 728.69,615.53 729.5,618 725,613.75 720,610 716.25,605 712.5,597.5 707.5,588.75 703.75,585 697.5,585 690,587.5 685,589.5 683.75,597.5 683,610 683.75,620 682.5,628.75 676.25,632.5 676.25,637.5 667.5,641.25 655,646.25 641.25,650.5 633.75,657.5 628.75,665 626.25,673 615,685 602,695 597,699 598,704.5 580,715 560,728 548,738 544.5,736.25 547,730 548,725 551.25,720 553.75,712 552,700 548,685 535,672 520,667 516,663 516,655 505,645 480,640 460,640 452.5,636.25 446.25,635 440,635.5 433.75,637 427.5,633.75 420,632.5 415,628 405,629.5 395,625 390,623 387.16,620.53 375.72,620.42 364.28,620.13 352.84,619.66 341.42,619.01 330,618.18 318.6,617.17 307.22,615.98 295.86,614.62 284.52,613.07 273.2,611.34 261.92,609.44 250.67,607.35 239.45,605.09 228.27,602.66 217.12,600.04 206.03,597.25 194.97,594.29 183.97,591.15 173.01,587.84 162.11,584.36 151.26,580.71 140.48,576.88 129.75,572.89 119.09,568.72 108.5,564.39 97.98,559.89 87.53,555.23 77.15,550.4 82.8,554.2 83.2,552.9 81.2,546.3 78.6,541 74.6,535.8 72,529.2 70,522.6 66.7,516 61.5,509.5 57.5,502.9 56,497 54,491 51.2,488.4 53.6,479.2 52.9,470 50,465 51.25,455 48.75,447.5 47.5,440 51.25,437.5 55,432.5 57.5,426.25 65,422.5 70,416.25 72.5,408.75 68.75,397.5 65,385 66.25,372.5 68.75,360 68,347.5 68.75,335 66.25,329.5 57.5,330 48,331.25 47,320 46.25,308.75 49.5,303.75 43.75,301.25 38.75,298.75 37.5,293.75"/>
<polygon fill="#a9a9a9" points="41.7,498.3 45,498.5 48.3,500.9 50.3,504.2 53.6,508.2 58.8,513.4 64.1,520 66.7,526.6 68,533.2 70.7,541 72.7,547.6 73,554.2 70.7,557.5 66.7,556.8 61.5,552.9 57.5,547.6 56.5,543.7 53.6,538.4 51.6,533.2 48.3,527.9 47.7,522.6 46.3,517.4 45.7,513.4 41.7,509.5 41.1,502.9"/>
<polygon fill="#a9a9a9" points="26.25,427.5 30,422.5 33.75,423.75 36.25,430 41.25,431.25 35,435 32.5,442.5 31.25,452.5 30,463.75 29.5,475 27.5,480 26.25,470 26.25,450 25.5,440"/>
<polygon fill="#a9a9a9" points="522.5,537 527,534.5 532.5,535.5 536.25,540 531.25,541.25 525,540"/>
<polygon fill="#a9a9a9" points="530,480 532,475 533.75,479.5 532.5,485"/>
<polygon fill="#a9a9a9" points="536.25,475 538.75,473.75 539.5,478.75 537,482.5"/>
<polygon fill="#afd0f1" points="191.25,281.25 195,280 202.5,282.5 212.5,283 222.5,282 232.5,283.75 233.75,287.5 225,288.75 222.5,292.5 230,295 240,293.75 241.25,297.5 235,302.5 232.5,307.5 228.75,305 222.5,303.75 217.5,306.25 220,310 215,312.5 207.5,311.25 205,307.5 210,303.75 212.5,301.25 206.25,300 200,302.5 196.25,302.5 195,300 202.5,297.5 207.5,293.75 205,290 200,287.5 195,285"/>
<polygon fill="#afd0f1" points="542.5,285.5 546.25,284.5 551.25,287.5 556.25,288.75 558.75,291.25 555,293.75 551.25,296.25 549.5,301.25 547.5,296.25 544.5,291.25"/>
<polygon fill="#afd0f1" points="548.75,313.75 552.5,312.5 557.5,315 562.5,318.75 558.75,322 553.75,323.75 550.5,320"/>
<polygon fill="#afd0f1" points="381.25,361.25 386.25,360 391.25,362 395,364.5 392.5,366.25 387.5,365 382.5,363.75"/>
<polygon fill="#afd0f1" points="380,301.25 383.75,302.5 387,307.5 386.25,311.25 382.5,310 380,308.75"/>
<polygon fill="#afd0f1" points="577.5,465.5 581.25,463.75 585.5,466.25 585,469.5 580,470"/>
<polygon fill="#afd0f1" points="741.25,420 738.75,425 733.75,430 730,437.5 727.5,445 726.25,451.75 722.5,449.5 718.75,448 725,446.25 728.75,440 732.5,432.5 737,427"/>
<polygon fill="#afd0f1" points="660.75,461 664,462.5 665.5,466 663,465.5"/>
<polygon fill="#afd0f1" points="682,455.75 688.75,457.25 694.5,456.5 691.5,459.75 686,460.5"/>
<polygon fill="#afd0f1" points="679,473 684.5,474.25 688.5,477 685,477.75 680,475.75"/>
<polygon fill="#afd0f1" points="691,482 695,483 696,485.25 692,484.75"/>
<polygon fill="#afd0f1" points="440,643.75 446.25,638.75 452.5,636.25 456.25,630 460,625 465,620 467.5,622.5 463.75,627.5 457.5,636.25 465,632.5 470,625 466.25,618.75 475,618 483.75,618.75 490,621.25 493,627.5 498.75,631.25 507.5,631.25 508.75,640 512.5,643.75 515,648.75 516.25,655 510,652.5 502.5,653.75 495,656.25 488.75,660 481.25,658.75 475,655 468.75,653.75 466.25,648.75 472.5,645 467.5,645 461.25,650 453.75,655 447.5,660 440,662.5 430,667.5 423.75,670 425,665 432.5,657.5 437.5,650"/>
<polygon fill="#afd0f1" points="488.75,672.5 493.75,670 500,666.25 506.25,664.5 512.5,667 511.25,671.25 507.5,677.5 507,686.25 504.5,682.5 501.25,686.25 499.5,695 500,705 503.75,715 505.5,725 503,735 498.75,739.25 490,739.5 485.5,735.5 482.5,725 482,712.5 483.75,697.5 486.25,685"/>
<polygon fill="#afd0f1" points="477.5,694.5 481.25,686.25 485,677.5 488.75,672.5 490,675 486.25,682.5 482.5,691.25 479.5,695.5"/>
<polygon fill="#afd0f1" points="515,665 522.5,662.5 530,660 536.25,657.5 545,656.25 555,656.25 562.5,657 567.5,661.25 572.5,666.25 576.25,670 578.75,673.75 575,675 571.25,678.75 566.25,678 562.5,675 558.75,671.25 555.5,670.5 558.75,675 561.25,681.25 558.75,690 557.5,700 556.25,710 553.75,712 551.25,705 547.5,697.5 542.5,695 538.75,698.75 536.25,703.75 532,702.5 530.5,697.5 534.5,692.5 536.25,685 535.5,677.5 533,671.25 526.25,668 520,667.5"/>
<polygon fill="#afd0f1" points="548,720.5 551.25,718.75 554.5,721.25 553,724.5 549.5,725"/>
<polygon fill="#afd0f1" points="543,736.25 546.25,730.5 552.5,727.5 558.75,723.75 565,720 570,715 577.5,712.5 585,708.75 592.5,705 598,704.5 596.25,710 591.25,715 585,720 578.75,725 572.5,730 566.25,735 560,738.75 552.5,739.5 546.25,738.75"/>
<polygon fill="#afd0f1" points="585.5,696.25 588.75,691.25 593.75,687.5 601.25,683.75 608.75,680.5 616.25,678.75 620.5,675 625.5,672.5 627.5,675 627,680 623.75,683.75 617.5,686.25 610,688.75 602.5,692 595,696.25 589.5,699.5"/>
<polygon fill="#afd0f1" points="456.25,601.25 458.75,597.5 463.75,597 466.25,601.25 466.25,607.5 462.5,611.25 458.75,610 456.25,606.25"/>
<polygon fill="#afd0f1" points="583.75,676.25 586.25,674.5 588,678 586.25,681.25 584.25,680"/>
<polygon fill="#afd0f1" points="612.5,593.75 616.25,590 620,588.75 622.5,592.5 626.25,593.75 622.5,595.5 618,596.25 614.5,597.5"/>
<polygon fill="#afd0f1" points="615,551.25 618.75,550 619.5,556.25 618,563.75 616.25,558.75"/>
<polygon fill="#afd0f1" points="346.25,540 350,536.25 355,535 358,528.75 360,533.75 357.5,537.5 361.25,542.5 363.75,550 366.25,558.75 367.5,567.5 371.25,575 374.5,581.25 375,588.75 372.5,596.25 368.75,597.5 367,590 367.5,582.5 365,576.25 363.75,570 360,568.75 356.25,563.75 351.25,557.5 348,550"/>
<polygon fill="#afd0f1" points="327.5,547.5 331.25,541.25 336.25,536.25 337.5,530 340.5,533.75 338.75,540 343.75,546.25 340,550 335,551.25 337.5,557.5 338.75,565 341.25,572.5 346.25,576.25 348.75,582.5 350,587.5 355,592.5 357,597.5 352.5,600 349.5,595 347.5,588.75 343.75,582.5 338.75,576.25 335.5,570 335,562.5 333.75,555 330,552.5"/>
<polygon fill="#afd0f1" points="312.5,490 315.5,482.5 318.75,472.5 323.75,466.25 328.75,463.75 330.5,467.5 326.25,472.5 323.75,481.25 320,486.25 315.5,488.75"/>
<polygon fill="#afd0f1" points="346.25,486.25 350,482.5 355,478.75 359.5,472.5 361.25,476.25 357.5,481.25 352.5,485 348,488"/>
<polygon fill="#afd0f1" points="256.25,485 260,481.25 262.5,475 265,478.75 266.25,485 262.5,488.75 260,493.75 257.5,490"/>
<polygon fill="#afd0f1" points="289.5,508.75 292.5,506.25 297,506.25 297.5,508.75 293.75,511.25 290.5,511.75"/>
<polygon fill="#afd0f1" points="390,536.25 395,535.5 399.5,538 396.25,540.5 391.25,539.5"/>
<polygon fill="#afd0f1" points="387,615 390,610 393.75,606.25 397.5,611.25 400,616.25 397.5,621.25 392.5,625 387.5,623.75"/>
<polygon fill="#afd0f1" points="210,380.5 213.75,382.5 218.75,383.75 225,380 231.25,376.25 233.75,370 230,362.5 232.5,361.25 235,366.25 240,370 242.5,376.25 246.25,380 252.5,378.75 258.75,376.25 262.5,372.5 267.5,370 273.75,369.5 278.75,371.25 282,374.5 277.5,375 272.5,373.75 268.75,376.25 263.75,377.5 260,381.25 255,385 248.75,388 243.75,388.75 238.75,392.5 232.5,393 225,392 220,390 215.5,386.25 212,383"/>
<polygon fill="#afd0f1" points="214.5,343 218,341.25 221.25,345 223,350 220,350.75 217,347.5"/>
<polygon fill="#afd0f1" points="248,438 251.25,435 256.25,433 260,430 265,426.25 270,427 273.75,430 280,432.5 286.25,434.5 290.5,437 285,436.25 278.75,435.5 272.5,435.5 266.25,435 261.25,435.5 256.25,438 252,441.25 248.75,440"/>
<polygon fill="#afd0f1" points="237.5,435 240.5,433 242.5,436.25 242,441.25 239.5,442.5 238,438.75"/>
<polygon fill="#afd0f1" points="318,472.5 321.25,467.5 325,465 328.75,463.75 330.5,467 327.5,471.25 325,476.25 323.75,480 318.75,480"/>
<polygon fill="#afd0f1" points="325.5,425 328,420 330,418.75 332,423.75 331.25,429.5 328,428.75"/>
<polygon fill="#afd0f1" points="335.5,376.25 338.75,373.75 343.75,371.25 347,372.5 346.25,377.5 343.75,381.25 342,385.5 338.75,383.75 336.25,380.5"/>
<polygon fill="#afd0f1" points="352.5,382.5 355,380 358,382 356.25,385 353.75,384.5"/>
<polygon fill="#afd0f1" points="362.5,385 366.25,383.75 369.5,386.25 371.25,391.25 368,390 365,388.75"/>
<polygon fill="#afd0f1" points="577,467 580,465 585,466.25 585.5,468.75 581.25,470 577.5,469"/>
<polygon fill="#afd0f1" points="615,552.5 618,545 622,540.5 625,540 623.75,545 620.5,552.5 618.75,560 618,565 616.25,560"/>
<polygon fill="#afd0f1" points="612.5,593.75 616.25,588.75 620,588 623,592 627,592.5 622.5,595 617.5,596.25 613.75,597.5"/>
<polygon fill="#afd0f1" points="655.5,647.5 657.5,647 659.5,656.25 658,657.5"/>
<polygon fill="#afd0f1" points="76.25,557.5 80,558.75 82.5,562.5 81.25,570 78.75,576.25 75,581.25 70,583.75 67,582 68.75,577.5 73.75,575 77,570 77.5,563.75"/>
<polygon fill="#afd0f1" points="150,718.75 153,717.5 155.5,722.5 160,723.75 161.25,728.75 158.75,735 153.75,736.25 151.25,731.25 149.5,725"/>
<polygon fill="#afd0f1" points="386.25,639.5 390,637 393.75,636.25 392.5,639.5 388.75,641.25"/>
<polygon fill="#afd0f1" points="53.58,502.89 56.47,501.58 61.47,508.16 67.39,514.74 71.34,521.97 73.58,528.55 76.21,535.13 80.55,541.05 82.79,546.97 83.84,554.21 79.89,562.11 74.63,562.76 67.39,560.79 66.08,556.84 72,556.18 73.97,554.87 74.37,547.63 72.66,541.05 69.63,533.16 68.32,526.58 65.42,519.74 60.16,513.42 55.16,508.42"/>
<polygon fill="#a9a9a9" points="533.75,662.5 540,661.25 546.25,659.5 551.25,662 550,665 543.75,664.5 537.5,663.75"/>
<polyline fill="none" stroke="#333" stroke-width="0.8" points="632,367 637.5,377.5 642.5,388.75 650,387.5 653.75,392.5 652.5,400 662.5,403.75 665,415 670,425 676.25,428.75 681.25,437.5 683.75,447.5 681.25,451.25 672.5,452.5 667.5,456.25 660,455 653.75,453 657.5,460 650,459.5 653.75,466.25 651.25,471.25 656.25,477.5 665,482.5 665,491.25 672.5,492.5 675,487.5 678.75,496.25 687.5,500 695,501.25 702.5,501.25 703.75,496.25 700,490 697.5,482.5 703,477.5 700,485 706.25,490 767.5,453.25 772.5,461.25"/>
<polyline fill="none" stroke="#333" stroke-width="0.8" points="689.5,588.75 691.25,576.25 697.5,571.25 706.25,568"/>
<polyline fill="none" stroke="#333" stroke-width="0.8" points="751.9,587.9 751.27,585.53 753.16,583.95"/>
<polyline fill="none" stroke="#333" stroke-width="0.8" points="46.25,308.75 48.83,311.66 55.53,317.03 62.31,322.29 69.18,327.44 76.12,332.49 83.15,337.42 90.25,342.24 97.43,346.94 104.69,351.53 112.02,356 119.41,360.36 126.88,364.6 134.41,368.71 142.01,372.71 149.67,376.58 157.39,380.33 165.17,383.96 173.01,387.46 180.9,390.84 188.85,394.09 196.85,397.21 204.89,400.21 212.98,403.08 221.12,405.81 229.3,408.42 237.52,410.89 245.78,413.24 254.07,415.45 262.4,417.52 270.76,419.47 279.15,421.28 287.57,422.96 296.02,424.5 304.49,425.91 312.98,427.18 321.49,428.31 330.01,429.31 338.55,430.18 347.11,430.9 355.67,431.49 364.24,431.94 372.82,432.26 381.4,432.44 389.99,432.48"/>
<polyline fill="none" stroke="#333" stroke-width="0.8" points="183.75,392 143.75,487.5 142.5,493.75 148.75,502.5 152.5,517.5 160,527.5 165,540 170,552.5 174.5,565 172.5,577.5 175.5,588"/>
<polyline fill="none" stroke="#333" stroke-width="0.8" points="262.76,417.61 218.83,600.45"/>
<polyline fill="none" stroke="#333" stroke-width="0.8" points="329.29,429.23 330,440 317,618"/>
<polyline fill="none" stroke="#333" stroke-width="0.8" points="444.5,484.5 400,540 387,555 387,615"/>
<polyline fill="none" stroke="#333" stroke-width="0.8" points="553.75,560 557.5,575 562.5,595 567.5,615 569.5,626.25 575,633.75 582.5,641.25 587.5,643 597.5,642.5 605,645.5 608,644.5 612.5,648.75 616.25,650 618.75,648 622.5,648.75 627.5,645 633.75,641.25 638.75,641.25 640.75,647.5"/>
<polyline fill="none" stroke="#333" stroke-width="0.8" points="155,203.75 150,211.25 142.5,220 137,228.75 142.5,233.75 148.75,237.5 146.25,246.25 141.25,253.75 146.25,257.5 145,265 138.75,268.75 136.25,276.25 140,283.75 138.75,290 141.25,297.5 137.5,305 136.25,315 132.5,326.25 137.5,330 138.75,340 140,347.5 137.5,355 145,357.5 155,361.25 153.75,378.75"/>
<polyline fill="none" stroke="#333" stroke-width="0.8" points="241.25,241.25 231.25,265 245,290 268.75,323 281.25,327 288,340 338,358 330.5,430"/>
<polyline fill="none" stroke="#333" stroke-width="0.8" points="314.5,203.75 303.25,253.25 287.5,249.5 286.25,252 265,241.75 263.25,242.5 263.75,248.75"/>
<polyline fill="none" stroke="#333" stroke-width="0.8" points="328.75,146.25 322.5,172.5"/>
<polyline fill="none" stroke="#333" stroke-width="0.8" points="330,143.75 322.5,172.5"/>
<polyline fill="none" stroke="#333" stroke-width="0.8" points="338,107.5 335.5,120"/>
<polygon fill="#0000ff" points="852.63,498.55 854.21,496.58 856.84,495.92 857.89,498.55 857.89,502.50 854.21,503.16 853.55,505.53 852.50,502.89"/>
<polygon fill="#00dc00" points="182.96,497.24 184.84,496.95 185.42,498.68 187.74,497.96 188.03,501.29 185.86,502.74 183.68,501.87 182.96,499.84"/>
<polygon fill="#e09c00" points="210.17,509.54 211.91,507.66 214.37,508.53 214.8,510.55 212.92,512.87 210.9,512"/>
<polygon fill="#ffff00" points="213.79,508.53 214.95,508.53 214.95,509.97 213.79,509.97"/>
<circle cx="231.01" cy="532.41" r="3.3" fill="#ffff00"/>
<circle cx="230.58" cy="531.97" r="1.3" fill="#e09c00"/>
<polygon fill="#ffff00" points="197.87,538.49 199.9,536.9 202.5,537.47 203.66,539.5 202.21,541.82 198.45,541.82"/>
<polygon fill="#e09c00" points="197.43,543.55 198.88,542.11 201.05,543.26 201.05,547.17 199.61,549.05 197,548.62"/>
<polygon fill="#e09c00" points="184.84,548.62 187.3,547.9 189.91,548.62 190.2,551.08 188.03,551.95 185.42,551.37"/>
<polygon fill="#e09c00" points="196.71,580.03 198.88,580.03 198.88,581.47 196.71,581.47"/>
<polygon fill="#ff0000" points="197.58,580.9 200.33,580.61 200.33,584.08 197.58,583.79"/>
<polygon fill="#ffff00" points="268.79,587.7 270.53,585.82 274.15,586.25 275.59,588.42 274.87,591.32 271.97,592.04 269.37,590.59"/>
<polygon fill="#00dc00" points="270.53,589.15 272.7,587.26 274.87,588.42 274.58,591.61 271.69,591.61"/>
<polygon fill="#0000ff" points="51.21,493.68 53.58,491.84 56.47,492.63 58.18,495.66 57.79,499.21 54.89,501.84 52.92,500 51.74,496.97"/>
<circle cx="54.89" cy="496.32" r="1" fill="#a9a9a9"/>
<polygon fill="#0000ff" points="41.08,500 43.05,497.89 46.34,496.97 48.97,498.95 49.63,502.24 47,504.47 43.05,504.47 41.21,502.63"/>
<polygon fill="#0000ff" points="41.47,508.16 43.71,505.26 46.34,506.18 48.05,509.47 47.79,513.68 45.68,514.08 44.37,511.05 41.74,510.13"/>
<polygon fill="#0000ff" points="66.08,554.87 69.11,554.87 69.11,557.89 66.74,557.89"/>
<polygon fill="#0000ff" points="70.95,557.89 73.05,557.89 73.05,558.95 70.95,558.95"/>
<polyline fill="none" stroke="#afd0f1" stroke-width="0.9" points="51.58,335.79 54.74,343.16 49.47,349.47 53.68,355.79 60,349.47 65.26,337.89"/>
<polyline fill="none" stroke="#afd0f1" stroke-width="0.9" points="44.21,343.16 46.32,351.58 51.58,355.79 47.37,364.21 43.16,368.42"/>
<polyline fill="none" stroke="#afd0f1" stroke-width="0.9" points="53.68,355.79 55.79,364.21 51.58,372.63 54.74,381.05 58.95,372.63 62.11,364.21 65.26,356.84"/>
<polyline fill="none" stroke="#afd0f1" stroke-width="0.9" points="40,366.32 45.26,372.63 43.16,381.05 47.37,385.26 46.32,393.68"/>
<polyline fill="none" stroke="#afd0f1" stroke-width="0.9" points="47.37,378.95 51.58,385.26 50.53,395.79 53.68,404.21 51.58,414.74"/>
<polyline fill="none" stroke="#afd0f1" stroke-width="0.9" points="55.79,385.26 58.95,393.68 56.84,404.21 62.11,408.42 63.16,404.21"/>
<polyline fill="none" stroke="#afd0f1" stroke-width="0.9" points="41.05,397.89 44.21,406.32 42.11,414.74"/>
<polyline fill="none" stroke="#fff" stroke-opacity="0.35" stroke-width="0.7" stroke-dasharray="2 1" points="58.75,600 61.25,608.75 75,613.75 90,618.75 107.5,621.25 127.5,627.5"/>
<polyline fill="none" stroke="#fff" stroke-opacity="0.35" stroke-width="0.7" stroke-dasharray="2 1" points="136.25,600 127.5,627.5 130,636.25 122.5,645 113.75,653.75 115.5,661.25 110,672.5 102.5,692.5"/>
<polyline fill="none" stroke="#fff" stroke-opacity="0.35" stroke-width="0.7" stroke-dasharray="2 1" points="22,661.25 62.5,680 102.5,693.75 125,703.75 140,707.5"/>
<polyline fill="none" stroke="#fff" stroke-opacity="0.35" stroke-width="0.7" stroke-dasharray="2 1" points="150,600 160,630 152.5,645 160,650 165,670 185,673.75"/>
<polyline fill="none" stroke="#fff" stroke-opacity="0.35" stroke-width="0.7" stroke-dasharray="2 1" points="185,673.75 191.25,667 220,672.5"/>
<polyline fill="none" stroke="#fff" stroke-opacity="0.35" stroke-width="0.7" stroke-dasharray="2 1" points="191.25,667 180,705 172.5,740"/>
<polyline fill="none" stroke="#fff" stroke-opacity="0.35" stroke-width="0.7" stroke-dasharray="2 1" points="286.25,615 280,667.5 276.25,685 268.75,740"/>
<polyline fill="none" stroke="#fff" stroke-opacity="0.35" stroke-width="0.7" stroke-dasharray="2 1" points="220,673.75 276.25,685"/>
<polyline fill="none" stroke="#fff" stroke-opacity="0.35" stroke-width="0.7" stroke-dasharray="2 1" points="280,667.5 327.5,673.75 370,675"/>
<polyline fill="none" stroke="#fff" stroke-opacity="0.35" stroke-width="0.7" stroke-dasharray="2 1" points="365,620.5 370,675 367.5,682.5 371.25,687.5 371.25,717.5 367.5,732.5 370,740"/>
<polyline fill="none" stroke="#fff" stroke-opacity="0.35" stroke-width="0.7" stroke-dasharray="2 1" points="371.25,717.5 440,717.5"/>
<polyline fill="none" stroke="#fff" stroke-opacity="0.35" stroke-width="0.7" stroke-dasharray="2 1" points="292.5,722.5 340,725 370,736.25"/>
<polyline fill="none" stroke="#fff" stroke-opacity="0.35" stroke-width="0.7" stroke-dasharray="2 1" points="440,660 420,665 416.25,680 420,695 435,707.5 440,717.5"/>
<polyline fill="none" stroke="#c4d6ea" stroke-opacity="0.8" stroke-width="0.6" points="52.5,445 65,450"/>
<polyline fill="none" stroke="#c4d6ea" stroke-opacity="0.8" stroke-width="0.6" points="50,455 61.25,458.75 66.25,456.25"/>
<polyline fill="none" stroke="#c4d6ea" stroke-opacity="0.8" stroke-width="0.6" points="51.25,467.5 60,470"/>
<polyline fill="none" stroke="#c4d6ea" stroke-opacity="0.8" stroke-width="0.6" points="52.5,477.5 70,475 68.75,485"/>
<polyline fill="none" stroke="#c4d6ea" stroke-opacity="0.8" stroke-width="0.6" points="51.25,487.5 57.5,488.75"/>
<polyline fill="none" stroke="#c4d6ea" stroke-opacity="0.8" stroke-width="0.6" points="57.5,507.5 70,510"/>
<polyline fill="none" stroke="#c4d6ea" stroke-opacity="0.8" stroke-width="0.6" points="62.5,517.5 76.25,513.75"/>
<polyline fill="none" stroke="#c4d6ea" stroke-opacity="0.8" stroke-width="0.6" points="73.75,457.5 85,462.5 95,472.5"/>
<polyline fill="none" stroke="#c4d6ea" stroke-opacity="0.8" stroke-width="0.6" points="70,526.25 80,523.75"/>
<polyline fill="none" stroke="#c4d6ea" stroke-opacity="0.8" stroke-width="0.6" points="76.25,540 82.5,538.75"/>
<polyline fill="none" stroke="#c4d6ea" stroke-opacity="0.8" stroke-width="0.6" points="57.5,430 67.5,423.75"/>
<polyline fill="none" stroke="#c4d6ea" stroke-opacity="0.8" stroke-width="0.6" points="52.5,440 62.5,436.25"/>
<polyline fill="none" stroke="#c4d6ea" stroke-opacity="0.8" stroke-width="0.6" points="51.25,452.5 66.25,448.75 60,456.25"/>
<polyline fill="none" stroke="#c4d6ea" stroke-opacity="0.8" stroke-width="0.6" points="52.5,462.5 63.75,460"/>
<polyline fill="none" stroke="#c4d6ea" stroke-opacity="0.8" stroke-width="0.6" points="73.75,460 85,458.75 90,466.25"/>
<polyline fill="none" stroke="#c4d6ea" stroke-opacity="0.8" stroke-width="0.6" points="121.25,426.25 123,440 125,452.5"/>
<polyline fill="none" stroke="#c4d6ea" stroke-opacity="0.8" stroke-width="0.6" points="123,440 137.5,445"/>
<polyline fill="none" stroke="#c4d6ea" stroke-opacity="0.8" stroke-width="0.6" points="72.5,345 78.75,333.75 82.5,326.25"/>
</g>
<rect x="21.5" y="20.5" width="839" height="721" fill="none" stroke="#000" stroke-width="1"/>
<rect x="1.5" y="1.5" width="878" height="758" fill="none" stroke="#000" stroke-width="1"/>
</svg>
<style>
.t{position:absolute;white-space:nowrap;line-height:1;color:#000}
.tk{position:absolute;background:#000}
.tl{position:absolute;white-space:nowrap;line-height:1;color:#000;font-size:9.33px}
.lg{position:absolute;left:625px;width:33px;height:16px;border:1px solid #000}
.ll{position:absolute;left:675px;font-size:16.7px;line-height:1;white-space:nowrap;transform:scaleX(0.925);transform-origin:0 0}
.sb{position:absolute;font-size:10.5px;letter-spacing:0.16px;line-height:1;white-space:nowrap}
</style>
<div class="t" style="left:81.2px;top:32.3px;font-size:10.67px;letter-spacing:0.09px">Natural Resources</div>
<div class="t" style="left:81.8px;top:45.8px;font-size:10.67px">Canada</div>
<div class="t" style="left:186.2px;top:32.3px;font-size:10.67px;letter-spacing:0.19px">Ressources naturelles</div>
<div class="t" style="left:186.5px;top:45.8px;font-size:10.67px">Canada</div>
<div class="t" id="t1" style="left:550px;top:35px;font-size:29.5px;letter-spacing:0.2px">Drought Code</div>
<div class="t" id="t2" style="left:549.5px;top:63.5px;font-size:29.5px;letter-spacing:-0.3px">Indice de sécheresse</div>
<div class="t" id="t3" style="left:551px;top:98.3px;font-size:25px;letter-spacing:-0.75px">2017-02-14</div>
<div class="lg" style="top:135px;background:#0000ff"></div>
<div class="ll" style="top:136.15px">0 - 80</div>
<div class="lg" style="top:160px;background:#00d800"></div>
<div class="ll" style="top:161.15px">80 - 190</div>
<div class="lg" style="top:185px;background:#ffff00"></div>
<div class="ll" style="top:186.15px">190 - 300</div>
<div class="lg" style="top:210px;background:#e0a000"></div>
<div class="ll" style="top:211.15px">300 - 425</div>
<div class="lg" style="top:235px;background:#ff0000"></div>
<div class="ll" style="top:236.15px">&gt; 425</div>
<div class="lg" style="top:260px;background:#a9a9a9"></div>
<div class="ll" style="top:261.15px">Nil / s.o.</div>
<div class="tk" style="left:85.5px;top:15px;width:1.2px;height:6px"></div>
<div class="tl" style="left:86.1px;top:3.5px;transform:translateX(-50%)">170°W</div>
<div class="tk" style="left:183.6px;top:15px;width:1.2px;height:6px"></div>
<div class="tl" style="left:184.2px;top:3.5px;transform:translateX(-50%)">160°W</div>
<div class="tk" style="left:241.4px;top:15px;width:1.2px;height:6px"></div>
<div class="tl" style="left:242.0px;top:3.5px;transform:translateX(-50%)">150°W</div>
<div class="tk" style="left:281.0px;top:15px;width:1.2px;height:6px"></div>
<div class="tl" style="left:281.6px;top:3.5px;transform:translateX(-50%)">140°W</div>
<div class="tk" style="left:311.1px;top:15px;width:1.2px;height:6px"></div>
<div class="tk" style="left:336.0px;top:15px;width:1.2px;height:6px"></div>
<div class="tl" style="left:336.6px;top:3.5px;transform:translateX(-50%)">120°W</div>
<div class="tk" style="left:357.7px;top:15px;width:1.2px;height:6px"></div>
<div class="tk" style="left:377.9px;top:15px;width:1.2px;height:6px"></div>
<div class="tl" style="left:378.5px;top:3.5px;transform:translateX(-50%)">100°W</div>
<div class="tk" style="left:397.5px;top:15px;width:1.2px;height:6px"></div>
<div class="tk" style="left:417.7px;top:15px;width:1.2px;height:6px"></div>
<div class="tl" style="left:418.3px;top:3.5px;transform:translateX(-50%)">80°W</div>
<div class="tk" style="left:439.4px;top:15px;width:1.2px;height:6px"></div>
<div class="tk" style="left:464.3px;top:15px;width:1.2px;height:6px"></div>
<div class="tl" style="left:464.9px;top:3.5px;transform:translateX(-50%)">60°W</div>
<div class="tk" style="left:494.4px;top:15px;width:1.2px;height:6px"></div>
<div class="tl" style="left:495.0px;top:3.5px;transform:translateX(-50%)">50°W</div>
<div class="tk" style="left:534.0px;top:15px;width:1.2px;height:6px"></div>
<div class="tl" style="left:534.6px;top:3.5px;transform:translateX(-50%)">40°W</div>
<div class="tk" style="left:591.8px;top:15px;width:1.2px;height:6px"></div>
<div class="tl" style="left:592.4px;top:3.5px;transform:translateX(-50%)">30°W</div>
<div class="tk" style="left:689.9px;top:15px;width:1.2px;height:6px"></div>
<div class="tl" style="left:690.5px;top:3.5px;transform:translateX(-50%)">20°W</div>
<div class="tk" style="left:37.0px;top:741px;width:1.2px;height:6px"></div>
<div class="tl" style="left:37.6px;top:748.5px;transform:translateX(-50%)">120°W</div>
<div class="tk" style="left:184.5px;top:741px;width:1.2px;height:6px"></div>
<div class="tl" style="left:185.1px;top:748.5px;transform:translateX(-50%)">110°W</div>
<div class="tk" style="left:321.1px;top:741px;width:1.2px;height:6px"></div>
<div class="tl" style="left:321.7px;top:748.5px;transform:translateX(-50%)">100°W</div>
<div class="tk" style="left:454.3px;top:741px;width:1.2px;height:6px"></div>
<div class="tl" style="left:454.9px;top:748.5px;transform:translateX(-50%)">90°W</div>
<div class="tk" style="left:590.9px;top:741px;width:1.2px;height:6px"></div>
<div class="tl" style="left:591.5px;top:748.5px;transform:translateX(-50%)">80°W</div>
<div class="tk" style="left:738.4px;top:741px;width:1.2px;height:6px"></div>
<div class="tl" style="left:739.0px;top:748.5px;transform:translateX(-50%)">70°W</div>
<div class="tk" style="left:16px;top:698.10px;width:6px;height:1.3px"></div>
<div class="tl" style="left:8.4px;top:699.2px;transform:translate(-50%,-50%) rotate(-90deg)">40°N</div>
<div class="tk" style="left:860px;top:642.35px;width:6px;height:1.3px"></div>
<div class="tl" style="left:872.5px;top:643.6px;transform:translate(-50%,-50%) rotate(-90deg)">40°N</div>
<div class="tk" style="left:16px;top:499.25px;width:6px;height:1.3px"></div>
<div class="tl" style="left:8.4px;top:500.4px;transform:translate(-50%,-50%) rotate(-90deg)">50°N</div>
<div class="tk" style="left:860px;top:422.25px;width:6px;height:1.3px"></div>
<div class="tl" style="left:872.5px;top:423.5px;transform:translate(-50%,-50%) rotate(-90deg)">50°N</div>
<div class="tk" style="left:16px;top:286.25px;width:6px;height:1.3px"></div>
<div class="tl" style="left:8.4px;top:287.4px;transform:translate(-50%,-50%) rotate(-90deg)">60°N</div>
<div class="tk" style="left:860px;top:151.15px;width:6px;height:1.3px"></div>
<div class="tl" style="left:872.5px;top:152.4px;transform:translate(-50%,-50%) rotate(-90deg)">60°N</div>
<div style="position:absolute;left:47px;top:706px;width:311px;height:7px;background:#fff;border:1px solid #000;box-sizing:content-box"></div>
<div class="tk" style="left:125.2px;top:706px;width:1px;height:8px"></div>
<div class="tk" style="left:203.5px;top:706px;width:1px;height:8px"></div>
<div class="tk" style="left:281.7px;top:706px;width:1px;height:8px"></div>
<div class="tk" style="left:47px;top:710px;width:78.2px;height:1px"></div>
<div class="tk" style="left:203.5px;top:710px;width:78.19999999999999px;height:1px"></div>
<div class="sb" style="left:46.7px;top:719.2px;transform:translateX(-50%)">0</div>
<div class="sb" style="left:124.3px;top:719.2px;transform:translateX(-50%)">500</div>
<div class="sb" style="left:202.6px;top:719.2px;transform:translateX(-50%)">1000</div>
<div class="sb" style="left:280.7px;top:719.2px;transform:translateX(-50%)">1500</div>
<div class="sb" style="left:348.8px;top:719.2px">2000<span style="margin-left:3.2px">km</span></div>
<div style="position:absolute;left:33px;top:33px;width:10.6px;height:21.5px;background:#c00000"></div>
<div style="position:absolute;left:65.4px;top:33px;width:10.6px;height:21.5px;background:#c00000"></div>
<svg style="position:absolute;left:45.3px;top:34.3px" width="18.4" height="19" viewBox="8 2 84 96" preserveAspectRatio="none"><path fill="#c00000" d="M50 3 L57 17 L65 13 L61 38 L72 27 L75 33 L89 30 L84 47 L90 51 L68 69 L71 78 L52 75 L53 97 L47 97 L48 75 L29 78 L32 69 L10 51 L16 47 L11 30 L25 33 L28 27 L39 38 L35 13 L43 17 Z"/></svg>
<div class="t" id="wm" style="left:689.5px;top:682.7px;font-family:'Liberation Serif',serif;font-size:59px;transform-origin:0 0;transform:scaleX(0.895);-webkit-text-stroke:0.35px #000"><span style="display:inline-block;transform:scaleX(1.15);transform-origin:0 0">C</span>anada</div>
<div style="position:absolute;left:826.2px;top:693px;width:5.3px;height:10.8px;background:#f00"></div>
<div style="position:absolute;left:841.8px;top:693px;width:5.3px;height:10.8px;background:#f00"></div>
<svg style="position:absolute;left:832px;top:693.5px" width="9.4" height="10" viewBox="8 2 84 96" preserveAspectRatio="none"><path fill="#f00" d="M50 3 L57 17 L65 13 L61 38 L72 27 L75 33 L89 30 L84 47 L90 51 L68 69 L71 78 L52 75 L53 97 L47 97 L48 75 L29 78 L32 69 L10 51 L16 47 L11 30 L25 33 L28 27 L39 38 L35 13 L43 17 Z"/></svg>
</body></html>
